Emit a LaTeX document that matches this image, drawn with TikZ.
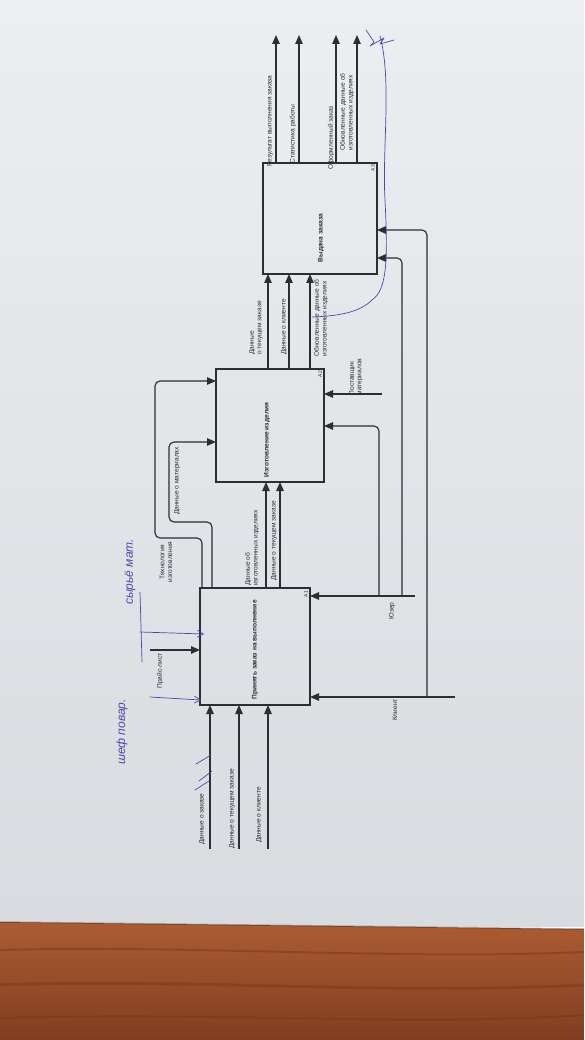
\documentclass[tikz,border=0pt]{standalone}
\usepackage{fontspec}
\setmainfont{Liberation Sans}
\usetikzlibrary{arrows.meta}
\definecolor{paper}{RGB}{216,219,223}
\definecolor{paperlight}{RGB}{236,238,241}
\definecolor{ink}{RGB}{45,45,50}
\definecolor{woodtop}{RGB}{172,92,50}
\definecolor{woodbot}{RGB}{128,62,32}
\definecolor{wooddark}{RGB}{100,45,22}
\definecolor{pen}{RGB}{80,70,170}
\begin{document}
\begin{tikzpicture}[x=1pt,y=-1pt,
  box/.style={draw=ink, line width=1.3pt, inner sep=0pt, outer sep=0pt},
  arr/.style={draw=ink, line width=1.15pt, -{Triangle[length=9pt,width=7.5pt]}, rounded corners=5pt},
  lbl/.style={rotate=90, font=\fontsize{6.6}{7.6}\selectfont, text=ink, inner sep=0pt, align=left},
  lblc/.style={lbl, align=center},
  ttl/.style={rotate=90, font=\bfseries\fontsize{6.6}{7.6}\selectfont, text=ink, inner sep=0pt},
  num/.style={rotate=90, font=\fontsize{5}{6}\selectfont, text=ink, inner sep=0pt},
  hand/.style={draw=pen, line width=0.7pt, line cap=round, line join=round},
  handtxt/.style={rotate=90, text=pen, font=\itshape\fontsize{12}{13}\selectfont, inner sep=0pt}
]
\useasboundingbox (0,0) rectangle (584,1040);
% paper and table
\shade[top color=paperlight, bottom color=paper] (0,0) rectangle (584,926);
\shade[top color=woodtop, bottom color=woodbot] (0,922) -- (584,929) -- (584,1040) -- (0,1040) -- cycle;
\draw[wooddark, opacity=0.35, line width=2pt] (0,950) .. controls (200,945) and (400,960) .. (584,952);
\draw[wooddark, opacity=0.3, line width=3pt] (0,985) .. controls (180,978) and (380,995) .. (584,985);
\draw[wooddark, opacity=0.3, line width=2pt] (0,1018) .. controls (220,1012) and (420,1026) .. (584,1015);
\draw[black, opacity=0.25, line width=1.5pt] (0,922) -- (584,929);

% boxes
\node[box, minimum width=110pt, minimum height=117pt] (A1) at (255,646.5) {};
\node[box, minimum width=108pt, minimum height=113pt] (A2) at (270,425.5) {};
\node[box, minimum width=114pt, minimum height=111pt] (A3) at (320,218.5) {};
\node[ttl] (t1) at (255,650) {Принять заказ на выполнение};
\node[ttl] (t2) at (267,440) {Изготовление изделия};
\node[ttl] (t3) at (321,238) {Выдача заказа};
\node[num] (n1) at (306,594) {A1};
\node[num] (n2) at (320,374) {A2};
\node[num] (n3) at (373,168) {A3};

% inputs of A1
\coordinate (i1) at (210,849);
\coordinate (i2) at (239,849);
\coordinate (i3) at (268,849);
\draw[arr] (i1) -- (i1 |- A1.south);
\draw[arr] (i2) -- (i2 |- A1.south);
\draw[arr] (i3) -- (i3 |- A1.south);
\node[lbl] (l1) at (202,819) {Данные о заказе};
\node[lbl] (l2) at (232,809) {Данные о текущем заказе};
\node[lbl] (l3) at (259,815) {Данные о клиенте};

% control of A1
\coordinate (c1) at (150,650);
\draw[arr] (c1) -- (c1 -| A1.west);
\node[lbl] (l4) at (160,671) {Прайс-лист};

% A1 -> A2 controls
\draw[arr] (202,0 |- A1.north) -- (202,538) -- (155,538) -- (155,381) -- (155,381 -| A2.west);
\draw[arr] (212,0 |- A1.north) -- (212,522) -- (169,522) -- (169,442) -- (169,442 -| A2.west);
\node[lblc] (l5) at (166,562) {Технология\\изготовления};
\node[lbl] (l6) at (177,481) {Данные о материалах};

% A1 -> A2 inputs
\draw[arr] (266,0 |- A1.north) -- (266,0 |- A2.south);
\draw[arr] (280,0 |- A1.north) -- (280,0 |- A2.south);
\node[lbl] (l7) at (252,548) {Данные об\\изготовленных изделиях};
\node[lbl] (l8) at (274,541) {Данные о текущем заказе};

% A2 -> A3
\draw[arr] (268,0 |- A2.north) -- (268,0 |- A3.south);
\draw[arr] (289,0 |- A2.north) -- (289,0 |- A3.south);
\draw[arr] (310,0 |- A2.north) -- (310,0 |- A3.south);
\node[lbl] (l9) at (256,328) {Данные\\о текущем заказе};
\node[lbl] (l10) at (284,327) {Данные о клиенте};
\node[lbl] (l11) at (321,318) {Обновленные данные об\\изготовленных изделиях};

% mechanisms
\coordinate (m1) at (455,697);
\coordinate (m2) at (415,596);
\coordinate (m3) at (382,394);
\draw[arr] (m1) -- (m1 -| A1.east);
\draw[arr] (427,697) -- (427,230) -- (427,230 -| A3.east);
\draw[arr] (m2) -- (m2 -| A1.east);
\draw[arr] (402,596) -- (402,258) -- (402,258 -| A3.east);
\draw[arr] (379,596) -- (379,426) -- (379,426 -| A2.east);
\draw[arr] (m3) -- (m3 -| A2.east);
\node[lbl] (l12) at (395,710) {Клиент};
\node[lbl] (l13) at (392,611) {Юзер};
\node[lbl] (l14) at (356,377) {Поставщик\\материалов};

% outputs of A3
\coordinate (o1) at (276,35);
\coordinate (o2) at (299,35);
\coordinate (o3) at (336,35);
\coordinate (o4) at (357,35);
\draw[arr] (o1 |- A3.north) -- (o1);
\draw[arr] (o2 |- A3.north) -- (o2);
\draw[arr] (o3 |- A3.north) -- (o3);
\draw[arr] (o4 |- A3.north) -- (o4);
\node[lbl] (l15) at (270,121) {Результат выполнения заказа};
\node[lbl] (l16) at (293,134) {Статистика работы};
\node[lbl] (l17) at (331,138) {Оформленный заказ};
\node[lbl] (l18) at (347,112) {Обновленные данные об\\изготовленных изделиях};

% handwriting
\draw[hand] (380,36) .. controls (392,80) and (382,150) .. (385,200) .. controls (388,260) and (387,290) .. (372,300) .. controls (360,312) and (340,316) .. (312,317);
\draw[hand] (366,30) -- (374,42) -- (370,46) -- (384,38) -- (380,44) -- (394,40);
\draw[hand, -{Straight Barb[length=6pt,width=7pt]}] (140,632) -- (204,634);
\draw[hand, -{Straight Barb[length=6pt,width=7pt]}] (150,697) -- (201,700);
\draw[hand] (140,592) -- (142,662);
\draw[hand] (196,764) -- (211,755);
\draw[hand] (199,781) -- (212,771);
\draw[hand] (195,790) -- (209,781);
\node[handtxt] (h1) at (122,732) {шеф повар.};
\node[handtxt] (h2) at (130,572) {сырьё мат.};
\end{tikzpicture}
\end{document}
